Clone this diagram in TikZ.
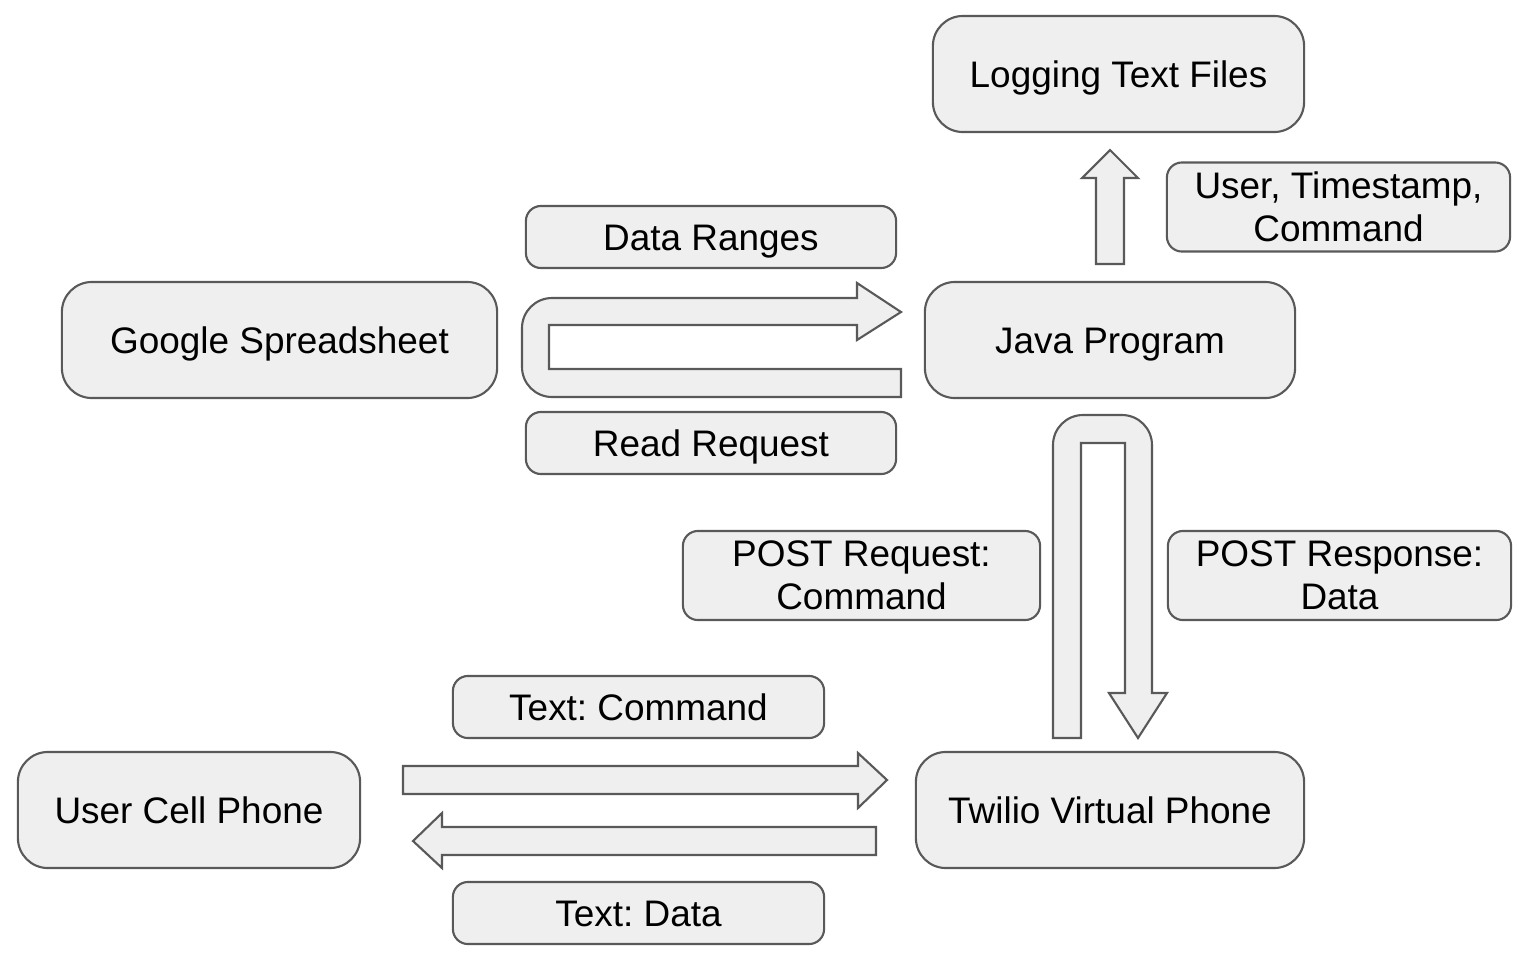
\documentclass[tikz,border=0pt]{standalone}
\usepackage{fontspec}
\setmainfont{Liberation Sans}
\usepackage{tikz}
\usetikzlibrary{arrows}
\usetikzlibrary{shapes}
\definecolor{boxfill}{HTML}{EFEFEF}
\definecolor{boxline}{HTML}{595959}
\frenchspacing

\begin{document}
\begin{tikzpicture}[x=0.01cm, y=-0.01cm, line width=0.6pt,
  bigbox/.style={draw=boxline, fill=boxfill, rounded corners=0.3cm, inner sep=0pt,
    minimum height=1.16cm, align=center, font=\fontsize{10.5}{12.2}\selectfont,
    text height=7.5pt, text depth=0pt},
  tagbox/.style={bigbox, rounded corners=0.15cm, minimum height=0.62cm},
  twoline/.style={text height=, text depth=-1.1pt, minimum height=0.89cm},
  blockarrow/.style={draw=boxline, fill=boxfill}]

\useasboundingbox (0,0) rectangle (1526,960);

% Define nodes
\node (logs) [bigbox, minimum width=3.71cm] at (1118.5,74) {Logging Text Files};
\node (sheet) [bigbox, minimum width=4.35cm] at (279.5,340) {Google Spreadsheet};
\node (java) [bigbox, minimum width=3.70cm] at (1110,340) {Java Program};
\node (phone) [bigbox, minimum width=3.42cm] at (189,810) {User Cell Phone};
\node (twilio) [bigbox, minimum width=3.88cm] at (1110,810) {Twilio Virtual Phone};

% Define labels
\node (ranges) [tagbox, minimum width=3.70cm] at (711,237) {Data Ranges};
\node (readreq) [tagbox, minimum width=3.70cm] at (711,443) {Read Request};
\node (logdata) [tagbox, twoline, minimum width=3.43cm] at (1338.5,207) {User, Timestamp,\\Command};
\node (postreq) [tagbox, twoline, minimum width=3.57cm] at (861.5,575.5) {POST Request:\\Command};
\node (postresp) [tagbox, twoline, minimum width=3.43cm] at (1339.5,575.5) {POST Response:\\Data};
\node (txtcmd) [tagbox, minimum width=3.71cm] at (638.5,707) {Text: Command};
\node (txtdata) [tagbox, minimum width=3.71cm] at (638.5,913) {Text: Data};

% Draw block arrows: java to logs
\draw[blockarrow] (1096,264) -- (1096,178) -- (1082,178) -- (1110,150) -- (1138,178)
  -- (1124,178) -- (1124,264) -- cycle;

% Draw block arrows: sheet and java
\draw[blockarrow] (901,369) -- (549,369) -- (549,325) -- (857,325) -- (857,340)
  -- (901,312) -- (857,283) -- (857,298) [rounded corners=0.3cm] -- (522,298)
  -- (522,397) [sharp corners] -- (901,397) -- cycle;

% Draw block arrows: java and twilio
\draw[blockarrow] (1081,738) -- (1081,443) -- (1125,443) -- (1125,693) -- (1109,693)
  -- (1138,738) -- (1167,693) -- (1152,693) [rounded corners=0.3cm] -- (1152,415)
  -- (1053,415) [sharp corners] -- (1053,738) -- cycle;

% Draw block arrows: phone and twilio
\draw[blockarrow] (403,766) -- (858,766) -- (858,753) -- (887,780) -- (858,808)
  -- (858,794) -- (403,794) -- cycle;
\draw[blockarrow] (876,827) -- (442,827) -- (442,813) -- (413,841) -- (442,868)
  -- (442,855) -- (876,855) -- cycle;

\end{tikzpicture}
\end{document}
